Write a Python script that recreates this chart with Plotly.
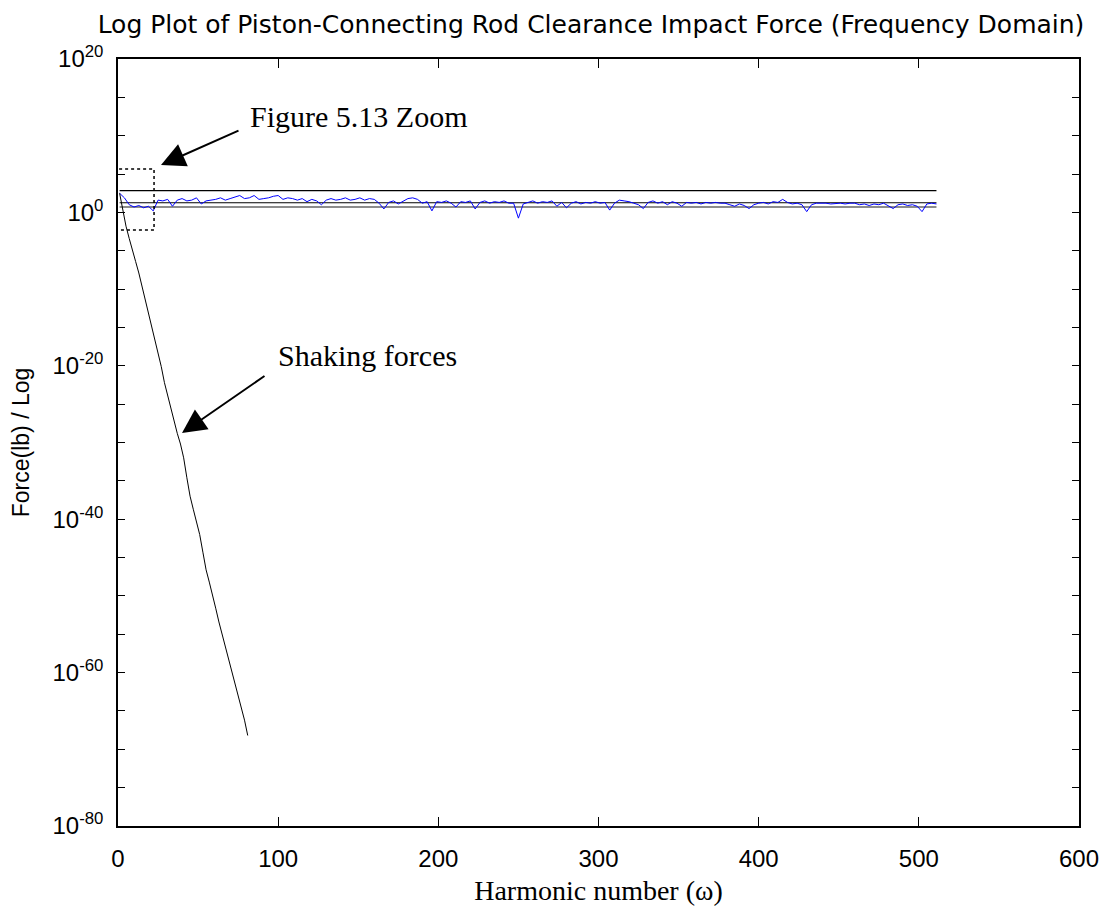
import plotly.graph_objects as go

# ---------------- data ----------------
# Blue line: clearance impact force, log10 magnitude, every 3rd harmonic from 1 to 511
blue_log = [
    2.5, 1.9, 1.0, 0.7, 0.9, 0.6, 0.8, 0.2, 1.6, 1.5,
    1.7, 0.8, 1.6, 1.8, 1.5, 1.6, 1.9, 1.1, 1.5, 1.6,
    1.7, 1.9, 1.6, 1.8, 2.0, 2.2, 1.8, 1.9, 2.2, 1.7,
    1.8, 1.9, 2.1, 2.2, 1.7, 1.9, 1.8, 1.6, 1.8, 1.4,
    1.7, 1.5, 1.0, 1.6, 1.8, 1.6, 1.7, 1.9, 1.6, 1.7,
    1.9, 1.6, 1.8, 1.7, 1.2, 0.45, 1.3, 1.5, 1.1, 1.5,
    1.8, 1.9, 1.7, 1.2, 1.4, 0.2, 1.4, 1.3, 1.5, 1.2,
    0.7, 1.4, 1.3, 1.5, 0.45, 1.3, 1.5, 1.2, 1.4, 1.3,
    1.5, 1.2, 1.2, -0.75, 1.1, 1.3, 1.5, 1.2, 1.4, 1.3,
    1.5, 0.8, 1.3, 0.6, 1.2, 1.4, 1.1, 1.3, 1.2, 1.4,
    1.2, 1.3, 0.3, 1.2, 1.6, 1.5, 1.4, 1.2, 1.0, 0.5,
    1.3, 1.5, 1.2, 1.4, 1.0, 1.4, 1.2, 0.8, 1.3, 1.2,
    1.3, 1.1, 1.3, 1.2, 1.3, 1.2, 1.2, 1.0, 0.8, 1.1,
    0.9, 0.5, 1.0, 1.2, 1.3, 1.1, 1.4, 1.3, 1.7, 1.3,
    1.1, 1.2, 1.0, 0.1, 1.0, 1.2, 1.2, 1.2, 1.1, 1.2,
    1.2, 1.1, 1.2, 1.2, 1.0, 1.1, 0.9, 1.1, 1.0, 1.2,
    0.9, 0.5, 1.0, 1.1, 0.9, 1.0, 0.8, 0.1, 1.1, 1.2,
    1.1,
]
blue_x = [1 + 3 * i for i in range(len(blue_log))]

# Black curve: shaking forces, log10 magnitude, odd harmonics 1..81
shaking_x = list(range(1, 82, 2))
shaking_log = [
    2.5, 0.3, -1.8, -3.4, -5.1, -6.4, -7.9, -9.6, -11.3, -13.0,
    -14.9, -16.7, -18.4, -20.1, -22.2, -23.9, -25.5, -27.4, -28.8, -30.2,
    -32.0, -34.6, -37.0, -38.7, -40.2, -42.0, -44.3, -46.6, -48.2, -49.8,
    -51.6, -53.4, -55.0, -56.6, -58.4, -60.0, -61.6, -63.2, -64.6, -66.2,
    -68.2,
]

# Horizontal reference levels (log10)
ref_x = [1, 511]
upper_ref_log = [2.83, 2.83]
lower_ref_log = [1.26, 1.26]
gray_ref_log = [0.72, 0.72]

x_ticks = [0, 100, 200, 300, 400, 500, 600]
y_tick_exponents = list(range(-80, 21, 5))
y_label_exponents = [-80, -60, -40, -20, 0, 20]

# ---------------- figure ----------------
def pw(v):
    return [10.0 ** e for e in v]

fig = go.Figure()
fig.add_trace(go.Scatter(x=ref_x, y=pw(gray_ref_log), mode="lines",
                         line=dict(color="#8c8c8c", width=2), hoverinfo="skip"))
fig.add_trace(go.Scatter(x=ref_x, y=pw(upper_ref_log), mode="lines",
                         line=dict(color="black", width=1.2), hoverinfo="skip"))
fig.add_trace(go.Scatter(x=ref_x, y=pw(lower_ref_log), mode="lines",
                         line=dict(color="black", width=1.2), hoverinfo="skip"))
fig.add_trace(go.Scatter(x=blue_x, y=pw(blue_log), mode="lines",
                         line=dict(color="#0000ff", width=1)))
fig.add_trace(go.Scatter(x=shaking_x, y=pw(shaking_log), mode="lines",
                         line=dict(color="black", width=1)))

L, R, T, B = 118, 1079, 59, 826
W, H = 1115, 913


def px(x):
    return (x - L) / (R - L)


def py(y):
    return (B - y) / (B - T)


sans = "Liberation Sans, Arial, sans-serif"
wide_sans = "DejaVu Sans, Liberation Sans, sans-serif"
serif = "Liberation Serif, Times New Roman, serif"

annotations = [
    dict(xref="paper", yref="paper", x=px(161), y=py(165), ax=79, ay=-35,
         text="", showarrow=True, arrowhead=2, arrowsize=2.4, arrowwidth=2,
         arrowcolor="black"),
    dict(xref="paper", yref="paper", x=px(182), y=py(433), ax=84, ay=-58,
         text="", showarrow=True, arrowhead=2, arrowsize=2.4, arrowwidth=2,
         arrowcolor="black"),
    dict(xref="paper", yref="paper", x=px(248), y=py(116), xanchor="left",
         yanchor="middle", text="Figure 5.13 Zoom", showarrow=False,
         font=dict(family=serif, size=30, color="black")),
    dict(xref="paper", yref="paper", x=px(276), y=py(355), xanchor="left",
         yanchor="middle", text="Shaking forces", showarrow=False,
         font=dict(family=serif, size=30, color="black")),
]

shapes = [
    dict(type="rect", xref="x", yref="y", x0=-9.4, x1=22.5,
         y0=10.0 ** -2.29, y1=10.0 ** 5.66,
         line=dict(color="black", width=1.5, dash="dot"))
]

fig.update_layout(
    width=W, height=H,
    margin=dict(l=L, r=W - R, t=T, b=H - B),
    plot_bgcolor="white", paper_bgcolor="white",
    showlegend=False,
    annotations=annotations,
    shapes=shapes,
    title=dict(text="Log Plot of Piston-Connecting Rod Clearance Impact Force (Frequency Domain)",
               font=dict(family=wide_sans, size=25, color="black"),
               xref="container", yref="container", x=591 / W, y=1 - 24 / H,
               xanchor="center", yanchor="middle"),
)

fig.update_xaxes(
    range=[0, 600], tickvals=x_ticks, ticktext=[str(v) for v in x_ticks],
    ticks="inside", ticklen=9, tickwidth=1, tickcolor="black",
    showline=True, linecolor="black", linewidth=1.5, mirror="allticks",
    showgrid=False, zeroline=False,
    tickfont=dict(family=sans, size=24, color="black"),
    ticklabelstandoff=10,
    title=dict(text="Harmonic number (ω)", font=dict(family=serif, size=28, color="black"),
               standoff=10),
    automargin=False,
)

fig.update_yaxes(
    type="log", range=[-80, 20],
    tickvals=[10.0 ** e for e in y_tick_exponents],
    ticktext=[("10<sup>%d</sup>" % e) if e in y_label_exponents else "" for e in y_tick_exponents],
    ticks="inside", ticklen=7, tickwidth=1, tickcolor="black",
    showline=True, linecolor="black", linewidth=1.5, mirror="allticks",
    showgrid=False, zeroline=False,
    tickfont=dict(family=sans, size=24, color="black"),
    ticklabelstandoff=8,
    title=dict(text="Force(lb) / Log", font=dict(family=sans, size=23, color="black"),
               standoff=16),
    automargin=False,
)

fig.write_html("out.html")
